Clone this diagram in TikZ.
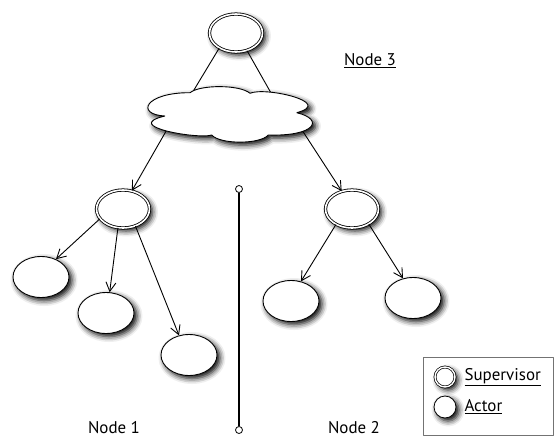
\documentclass[tikz,border=0pt]{standalone}
\usepackage{fontspec}
\setmainfont{PT Sans}
\usetikzlibrary{arrows.meta,calc}
\usetikzlibrary{shapes.geometric, shadows.blur}

\begin{document}
\begin{tikzpicture}[>={Straight Barb[length=9bp,width=10bp]},line join=bevel,
  every node/.style={font=\fontsize{17}{19}\selectfont},
  shady/.style={blur shadow={shadow xshift=3bp,shadow yshift=-3bp,shadow blur radius=5.5bp,shadow opacity=100}},
  supervisor/.style={ellipse,draw,double,double distance=1.6bp,line width=0.8bp,fill=white,
    minimum width=53bp,minimum height=38bp,inner sep=0pt,shady},
  actor/.style={ellipse,draw,line width=0.9bp,fill=white,minimum width=56bp,minimum height=41bp,inner sep=0pt,shady},
  link/.style={black,line width=0.9bp}]
\useasboundingbox (0bp,0bp) rectangle (554bp,-438bp);
%%
\node (node_0) at (236bp,-33bp) [supervisor] {};
  \coordinate (node_1) at (230bp,-114.5bp);
  \node (node_2) at (123bp,-209bp) [supervisor] {};
  \node (node_3) at (352bp,-209bp) [supervisor] {};
  \node (node_4) at (41bp,-277bp) [actor] {};
  \node (node_5) at (106bp,-313bp) [actor] {};
  \node (node_6) at (189bp,-355bp) [actor] {};
  \node (node_7) at (291bp,-301bp) [actor] {};
  \node (node_8) at (413bp,-298bp) [actor] {};
  \node (label_3) at (370bp,-61bp) {\underline{Node 3}};
  \node (label_1) at (114bp,-428bp) {Node 1};
  \node (label_2) at (354bp,-428bp) {Node 2};
  \draw [link] (node_0.222) -- ($(node_1)+(-40bp,18bp)$);
  \draw [link] (node_0.302) -- ($(node_1)+(43bp,18bp)$);
  \draw [link,->] ($(node_1)+(-63bp,-15bp)$) -- (node_2.64);
  \draw [link,->] ($(node_1)+(68.7bp,-10.5bp)$) -- (node_3.120);
  \draw [link,->] (node_2.203) -- (node_4.50);
  \draw [link,->] (node_2.255) -- (node_5.80);
  \draw [link,->] (node_2.306) -- (node_6.117);
  \draw [link,->] (node_3.224) -- (node_7.63);
  \draw [link,->] (node_3.318) -- (node_8.117);
% the cloud
  \begin{scope}[shift={(node_1)}]
    \path [draw,fill=white,line width=0.9bp,shady]
      (-65bp,-1.5bp) .. controls (-95bp,0bp) and (-85bp,22bp) .. (-40bp,21.8bp)
      .. controls (-30bp,30bp) and (10bp,30bp) .. (20bp,21.2bp)
      .. controls (35bp,28bp) and (105bp,12bp) .. (66.7bp,1.8bp)
      .. controls (95bp,-5bp) and (85bp,-22bp) .. (38.3bp,-20.5bp)
      .. controls (30bp,-30bp) and (-10bp,-30bp) .. (-18.3bp,-20.5bp)
      .. controls (-30bp,-25bp) and (-110bp,-12bp) .. cycle;
  \end{scope}
%
  \node (sep_top) at (239bp,-189bp) [circle,draw,line width=0.8bp,fill=white,minimum size=7bp,inner sep=0pt] {};
  \node (sep_bot) at (239bp,-430bp) [circle,draw,line width=0.8bp,fill=white,minimum size=7bp,inner sep=0pt] {};
  \draw [black,line width=1.7bp] (sep_top) -- (sep_bot);
%
  \node (legend) at (488bp,-396bp) [draw=black!55,line width=0.6bp,minimum width=130bp,minimum height=78bp] {};
  \node (key_0) at (445bp,-377bp) [circle,draw,double,double distance=1.4bp,line width=0.7bp,fill=white,minimum size=20bp,inner sep=0pt,shady] {};
  \node (key_1) at (445bp,-407bp) [circle,draw,line width=0.8bp,fill=white,minimum size=22bp,inner sep=0pt,shady] {};
  \node (text_0) [anchor=west] at (461bp,-377bp) {\underline{Supervisor}};
  \node (text_1) [anchor=west] at (461bp,-407bp) {\underline{Actor}};
%
\end{tikzpicture}
\end{document}
